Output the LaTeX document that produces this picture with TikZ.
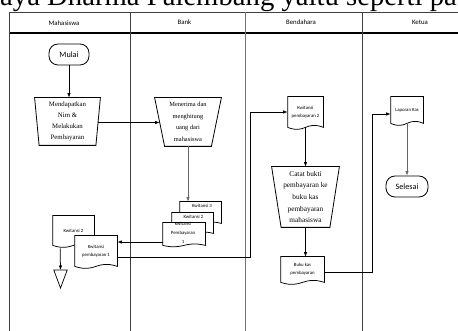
\documentclass[tikz,border=0pt]{standalone}
\usepackage{fontspec}
\setmainfont{Liberation Serif}
\newfontfamily\lanefont{Carlito}
\usetikzlibrary{arrows.meta,calc}

% registers used by the two flowchart shapes below
\newdimen\shpxa \newdimen\shpxb \newdimen\shpya \newdimen\shpyb
\newdimen\shpd \newdimen\shpxm \newdimen\shpyu \newdimen\shpyl
\pgfkeys{/pgf/manop inset/.initial=5pt, /pgf/doc wave/.initial=7pt}

\makeatletter
% manual operation: trapezium, wide side on top
\pgfdeclareshape{manualop}{
  \inheritsavedanchors[from=rectangle]
  \inheritanchorborder[from=rectangle]
  \inheritanchor[from=rectangle]{center}
  \inheritanchor[from=rectangle]{north}
  \inheritanchor[from=rectangle]{south}
  \inheritanchor[from=rectangle]{east}
  \inheritanchor[from=rectangle]{west}
  \inheritanchor[from=rectangle]{north east}
  \inheritanchor[from=rectangle]{north west}
  \inheritanchor[from=rectangle]{south east}
  \inheritanchor[from=rectangle]{south west}
  \backgroundpath{
    \pgfmathsetlength\shpd{\pgfkeysvalueof{/pgf/manop inset}}
    \southwest \shpxa=\pgf@x \shpya=\pgf@y
    \northeast \shpxb=\pgf@x \shpyb=\pgf@y
    \pgfpathmoveto{\pgfqpoint{\shpxa}{\shpyb}}
    \pgfpathlineto{\pgfqpoint{\shpxb}{\shpyb}}
    \advance\shpxb by -\shpd
    \advance\shpxa by \shpd
    \pgfpathlineto{\pgfqpoint{\shpxb}{\shpya}}
    \pgfpathlineto{\pgfqpoint{\shpxa}{\shpya}}
    \pgfpathclose
  }
}
% document: rectangle with a wavy lower edge
\pgfdeclareshape{wavedoc}{
  \inheritsavedanchors[from=rectangle]
  \inheritanchorborder[from=rectangle]
  \inheritanchor[from=rectangle]{center}
  \inheritanchor[from=rectangle]{north}
  \inheritanchor[from=rectangle]{south}
  \inheritanchor[from=rectangle]{east}
  \inheritanchor[from=rectangle]{west}
  \inheritanchor[from=rectangle]{north east}
  \inheritanchor[from=rectangle]{north west}
  \inheritanchor[from=rectangle]{south east}
  \inheritanchor[from=rectangle]{south west}
  \backgroundpath{
    \pgfmathsetlength\shpd{\pgfkeysvalueof{/pgf/doc wave}}
    \southwest \shpxa=\pgf@x \shpya=\pgf@y
    \northeast \shpxb=\pgf@x \shpyb=\pgf@y
    \shpxm=.5\shpxa \advance\shpxm by .5\shpxb
    \shpyu=\shpya \advance\shpyu by \shpd
    \shpyl=\shpya \advance\shpyl by -\shpd
    \pgfpathmoveto{\pgfqpoint{\shpxa}{\shpya}}
    \pgfpathlineto{\pgfqpoint{\shpxa}{\shpyb}}
    \pgfpathlineto{\pgfqpoint{\shpxb}{\shpyb}}
    \pgfpathlineto{\pgfqpoint{\shpxb}{\shpya}}
    \pgfpathcurveto{\pgfqpoint{\shpxm}{\shpyu}}{\pgfqpoint{\shpxm}{\shpyl}}{\pgfqpoint{\shpxa}{\shpya}}
    \pgfpathclose
  }
}
\makeatother

\begin{document}
\begin{tikzpicture}[x=1pt,y=-1pt,
  lane/.style={draw=black!75,line width=0.8pt},
  arr/.style={-{Latex[length=4.5pt,width=3.5pt]},line width=0.75pt},
  term/.style={draw,line width=0.8pt,rounded corners=9pt,inner sep=0pt,
    font=\lanefont\fontsize{8.2}{9}\selectfont},
  mop/.style={shape=manualop,draw,line width=0.8pt,inner sep=0pt,align=center},
  wdoc/.style={shape=wavedoc,draw,fill=white,line width=0.75pt,inner sep=0pt,
    align=center,font=\lanefont\fontsize{4.8}{8}\selectfont},
  hdr/.style={font=\lanefont\fontsize{6.8}{8}\selectfont,inner sep=0pt},
  dtext/.style={font=\lanefont\fontsize{4.8}{9}\selectfont,inner sep=0pt,align=center}
]
\clip (0,0) rectangle (458,331);

% running text above the chart
\node[anchor=base west,inner sep=0pt,font=\fontsize{28.7}{30}\selectfont]
  (caption) at (0,6) {aya Dharma Palembang yaitu seperti pa};

% swimlane frame
\draw[lane] (9.5,331) -- (9.5,12) -- (458,12);
\draw[line width=1.3pt] (9.5,33) -- (458,33);
\draw[lane] (130,12) -- (130,331);
\draw[lane,draw=black!55,line width=1.3pt] (245.5,12) -- (245.5,331);
\draw[lane] (362,12) -- (362,331);

\node[hdr] (hMhs)  at (64,23)  {Mahasiswa};
\node[hdr] (hBank) at (184.5,22) {Bank};
\node[hdr] (hBend) at (301,22) {Bendahara};
\node[hdr] (hKet)  at (420,22) {Ketua};

% Mahasiswa
\node[term,minimum width=40pt,minimum height=21pt] (mulai) at (69,54.5) {Mulai};
\node[mop,manop inset=4.5pt,minimum width=65pt,minimum height=47pt,
  font=\fontsize{6.8}{11}\selectfont] (daftar) at (67.5,121.5)
  {Mendapatkan\\Nim \&\\Melakukan\\Pembayaran};

% Bank
\node[mop,manop inset=10pt,minimum width=66pt,minimum height=48pt,
  font=\fontsize{6.4}{11.5}\selectfont] (terima) at (188,122)
  {Menerima dan\\menghitung\\uang dari\\mahasiswa};

\node[wdoc,doc wave=5pt,minimum width=41pt,minimum height=21pt] (kw3) at (200.5,212.5) {};
\node[dtext] (kw3t) at (202,206) {Kwitansi 3};
\node[wdoc,doc wave=5pt,minimum width=41pt,minimum height=20pt] (kw2b) at (192.5,223) {};
\node[dtext] (kw2bt) at (193.5,217) {Kwitansi 2};
\node[wdoc,doc wave=5pt,minimum width=42pt,minimum height=22pt] (kw1b) at (184,234) {};
\node[dtext] (kw1bt) at (183,233) {Kwitansi\\Pembayaran\\1};

% Mahasiswa documents and archive
\node[wdoc,minimum width=41pt,minimum height=29pt] (kwm2) at (73.5,230.5) {Kwitansi 2};
\node[wdoc,minimum width=42pt,minimum height=30pt] (kwm1) at (96,251) {Kwitansi\\pembayaran 1};
\coordinate (arsip) at (60.5,270);
\draw[line width=0.75pt] (arsip) ++(-6.75,0) -- ++(13.5,0) -- ++(-6.75,18) -- cycle;

% Bendahara
\node[wdoc,minimum width=35pt,minimum height=30pt] (kwb) at (305.5,112) {Kwitansi\\pembayaran 2};
\node[mop,manop inset=9.5pt,minimum width=67pt,minimum height=60pt,
  font=\fontsize{7.3}{11.7}\selectfont] (catat) at (305.5,197)
  {Catat bukti\\pembayaran ke\\buku kas\\pembayaran\\mahasiswa};
\node[wdoc,minimum width=43pt,minimum height=25pt] (buku) at (302.5,269.5) {Buku kas\\pembayaran};

% Ketua
\node[wdoc,minimum width=32pt,minimum height=26pt] (lap) at (407,110) {Laporan Kas};
\node[term,minimum width=42pt,minimum height=21pt] (selesai) at (407,186.5) {Selesai};

% connectors
\draw[arr] (mulai.south) -- (mulai.south |- daftar.north);
\draw[arr] ($(daftar.east)+(-2.5,1)$) -- ($(terima.west)+(5,0.5)$);
\draw[arr,draw=black!60] (terima.south) -- (terima.south |- kw3.north);
\draw[arr] ($(kw1b.west)+(0,8)$) -- ($(kw1b.west -| kwm1.east)+(0,8)$);
\draw[arr] ($(kwm1.east)+(0,6)$) -| ($(kwb.west)+(-37,0)$) -- (kwb.west);
\draw[arr] (kwb.south) -- (catat.north);
\draw[arr] (catat.south) -- (catat.south |- buku.north);
\draw[arr] ($(buku.east)+(0,2.5)$) -| ($(lap.west)+(-18.5,4)$) -- ($(lap.west)+(0,4)$);
\draw[arr,draw=black!60] (lap.south) -- (selesai.north);
\draw[arr] ($(kwm2.south west)+(7.5,3)$) -- (arsip);
\end{tikzpicture}
\end{document}
